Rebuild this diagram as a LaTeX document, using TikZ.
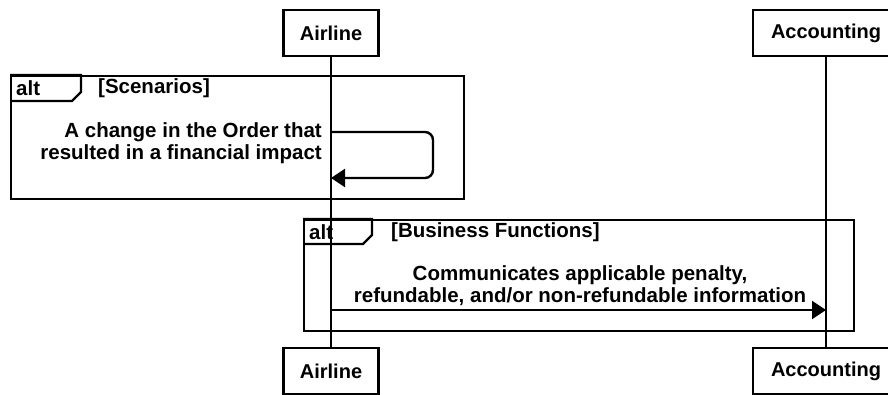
\documentclass[tikz,border=0pt]{standalone}
\usepackage{fontspec}
\setmainfont{Liberation Sans}
\usetikzlibrary{arrows.meta, positioning}

\tikzset{
    actor/.style={draw, line width=2.4pt, fill=white, minimum height=46pt, inner sep=0pt, font=\bfseries\fontsize{20}{21}\selectfont},
    frame/.style={draw, line width=2.4pt, inner sep=0pt, anchor=north west},
    lbl/.style={inner sep=0pt, font=\bfseries\fontsize{20.5}{22}\selectfont},
    msg/.style={line width=2.4pt, -{Triangle[length=14pt,width=18pt]}},
}

\begin{document}
\begin{tikzpicture}[x=1pt, y=-1pt]
    \useasboundingbox (0,0) rectangle (888,394);

    % Participants (top and bottom)
    \node[actor, minimum width=95pt] (air) at (331,33) {Airline};
    \node[actor, minimum width=146pt] (acc) at (826,33) {Accounting};
    \node[actor, minimum width=95pt] (airB) at (331,371) {Airline};
    \node[actor, minimum width=146pt] (accB) at (826,371) {Accounting};

    % Lifelines
    \draw[line width=2.4pt] (air) -- (airB);
    \draw[line width=2.4pt] (acc) -- (accB);

    % Frame 1 (Scenarios)
    \node[frame, minimum width=453pt, minimum height=123pt] (f1) at (10,75) {};
    \draw[line width=2.4pt] (f1.north west) -- ++(71,0) -- ++(0,17) -- ++(-9,9) -- ++(-62,0);
    \node[lbl, anchor=west] (f1alt) at (16,88) {alt};
    \node[lbl, anchor=west] (f1g) at (98,88) {[Scenarios]};

    % Self message
    \coordinate (s1) at (331,132);
    \coordinate (s2) at (433,132);
    \coordinate (s3) at (433,178);
    \coordinate (s4) at (331,178);
    \draw[msg, rounded corners=8pt] (s1) -- (s2) -- (s3) -- (s4);
    \node[lbl, align=right, anchor=east] (m1) at (322,143) {A change in the Order that\\resulted in a financial impact};

    % Frame 2 (Business Functions)
    \node[frame, minimum width=550pt, minimum height=111pt] (f2) at (303,219) {};
    \draw[line width=2.4pt] (f2.north west) -- ++(69,0) -- ++(0,16) -- ++(-9,9) -- ++(-60,0);
    \node[lbl, anchor=west] (f2alt) at (309,232) {alt};
    \node[lbl, anchor=west] (f2g) at (391,232) {[Business Functions]};

    % Message to Accounting
    \coordinate (m2y) at (0,310);
    \draw[msg] (air |- m2y) -- (acc |- m2y);
    \node[lbl, align=center, anchor=south] (m2) at (580,306) {Communicates applicable penalty,\\refundable, and/or non-refundable information};
\end{tikzpicture}
\end{document}
